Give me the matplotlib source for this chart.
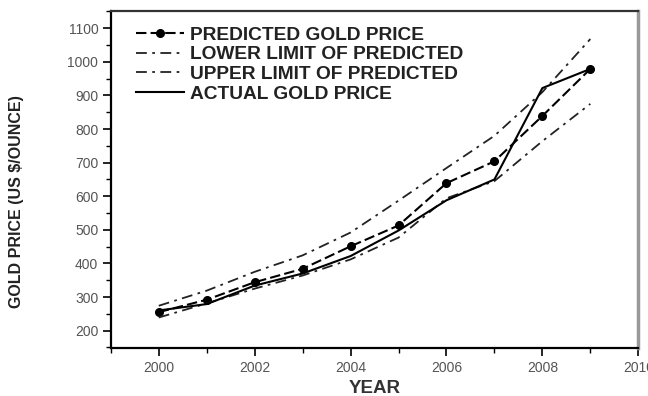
import matplotlib.pyplot as plt
from matplotlib.ticker import MultipleLocator

# ------------------------------
# Gold price data (US $ / ounce)
# ------------------------------
years = [2000, 2001, 2002, 2003, 2004, 2005, 2006, 2007, 2008, 2009]
predicted = [255, 292, 344, 384, 451, 513, 639, 704, 839, 979]
lower_limit = [239, 281, 325, 364, 412, 477, 594, 645, 764, 875]
upper_limit = [274, 319, 375, 424, 492, 587, 684, 780, 910, 1068]
actual = [260, 279, 334, 370, 422, 498, 588, 650, 922, 979]

x_ticks = [2000, 2002, 2004, 2006, 2008, 2010]
y_ticks = [200, 300, 400, 500, 600, 700, 800, 900, 1000, 1100]

plt.rcParams["font.family"] = ["Liberation Sans", "DejaVu Sans"]

fig = plt.figure(figsize=(6.48, 3.96), dpi=100)
ax = fig.add_axes([0.171, 0.121, 0.814, 0.850])

ax.plot(years, predicted, color="black", linestyle=(0, (5, 2)), linewidth=1.5,
        marker="o", markersize=5.5, label="PREDICTED GOLD PRICE")
ax.plot(years, lower_limit, color="#222222", linestyle=(0, (6, 3, 1.5, 3)),
        linewidth=1.3, label="LOWER LIMIT OF PREDICTED")
ax.plot(years, upper_limit, color="#222222", linestyle=(0, (6, 3, 1.5, 3)),
        linewidth=1.3, label="UPPER LIMIT OF PREDICTED")
ax.plot(years, actual, color="black", linewidth=1.5, label="ACTUAL GOLD PRICE")

ax.set_xlim(1999, 2010)
ax.set_ylim(148, 1150)
ax.set_xticks(x_ticks)
ax.set_yticks(y_ticks)
ax.xaxis.set_minor_locator(MultipleLocator(1))
ax.yaxis.set_minor_locator(MultipleLocator(50))
ax.tick_params(axis="both", which="major", direction="out", length=6, width=1.2,
               labelsize=10, labelcolor="#555555", pad=3)
ax.tick_params(axis="both", which="minor", direction="out", length=3.5, width=1)

for side in ["left", "bottom"]:
    ax.spines[side].set_linewidth(1.6)
ax.spines["top"].set_linewidth(1.6)
ax.spines["top"].set_color("#333333")
ax.spines["right"].set_linewidth(2.5)
ax.spines["right"].set_color("#999999")

ax.set_xlabel("YEAR", fontsize=13.5, fontweight="bold", color="#333333", labelpad=4)
fig.text(0.026, 0.492, "GOLD PRICE (US $/OUNCE)", rotation=90, fontsize=11.5,
         fontweight="bold", color="#222222", ha="center", va="center")

leg = ax.legend(loc="upper left", bbox_to_anchor=(0.03, 0.985), frameon=False,
                prop={"size": 13.8, "weight": "bold"}, handlelength=2.5,
                handletextpad=0.3, labelspacing=0.12, borderpad=0)
for text in leg.get_texts():
    text.set_color("#222222")

fig.savefig("out.png", dpi=100)
